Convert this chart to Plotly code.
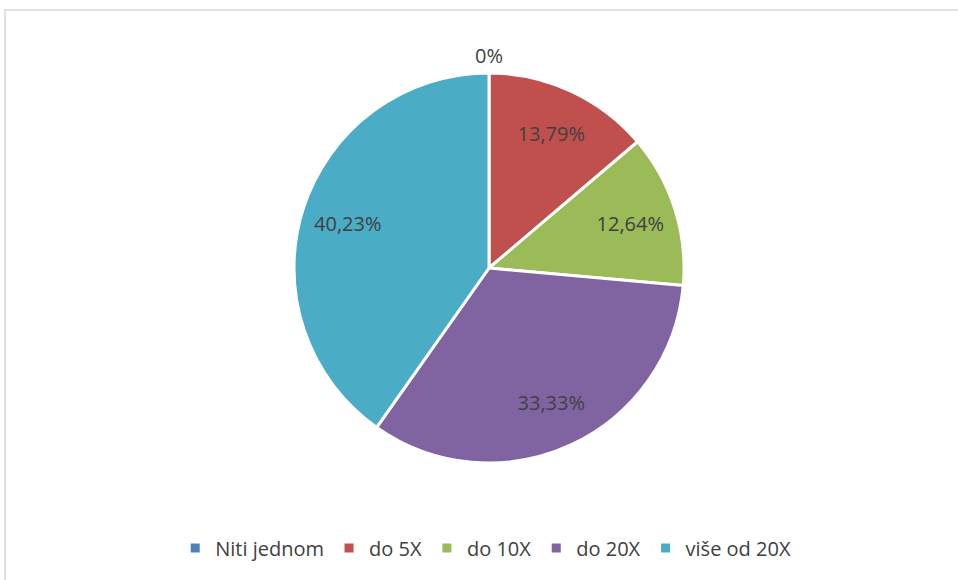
import plotly.graph_objects as go

categories = ["Niti jednom", "do 5X", "do 10X", "do 20X", "više od 20X"]
counts = [0, 12, 11, 29, 35]
colors = ["#4F81BD", "#C0504D", "#9BBB59", "#8064A2", "#4BACC6"]

total = sum(counts)
labels_txt = []
for v in counts:
    p = v / total * 100
    labels_txt.append("0%" if v == 0 else f"{p:.2f}".replace(".", ",") + "%")

W, H = 958, 580
cx, cy, R = 489, 268, 195
dom = dict(x=[(cx - R) / W, (cx + R) / W], y=[1 - (cy + R) / H, 1 - (cy - R) / H])
FONT = "Open Sans, sans-serif"
TXT = "#404040"

# main pie (colours, legend)
fig = go.Figure(go.Pie(
    labels=categories,
    values=counts,
    textinfo="none",
    sort=False,
    direction="clockwise",
    rotation=0,
    marker=dict(colors=colors, line=dict(color="white", width=3)),
    domain=dom,
    hoverinfo="label+value+percent",
))

# transparent ring overlay to place the data labels further out, like the original
ring_text = ["" if v == 0 else t for v, t in zip(counts, labels_txt)]
fig.add_trace(go.Pie(
    labels=categories,
    values=counts,
    text=ring_text,
    textinfo="text",
    textposition="inside",
    insidetextorientation="horizontal",
    hole=0.52,
    sort=False,
    direction="clockwise",
    rotation=0,
    marker=dict(colors=["rgba(0,0,0,0)"] * len(counts), line=dict(width=0)),
    textfont=dict(family=FONT, size=20, color=TXT),
    domain=dom,
    showlegend=False,
    hoverinfo="skip",
))

annotations = []
for v, t in zip(counts, labels_txt):
    if v == 0:
        annotations.append(dict(text=t, xref="paper", yref="paper", x=cx / W, y=1 - (cy - R - 18) / H,
                                xanchor="center", yanchor="middle",
                                showarrow=False, font=dict(family=FONT, size=20, color=TXT)))

fig.update_layout(
    width=W, height=H,
    margin=dict(l=0, r=0, t=0, b=0),
    paper_bgcolor="white",
    showlegend=True,
    legend=dict(
        orientation="h", x=0.507, xanchor="center", y=1 - 548 / H, yanchor="middle",
        font=dict(family=FONT, size=20, color=TXT),
        itemwidth=30, traceorder="normal",
    ),
    annotations=annotations,
    shapes=[dict(type="rect", xref="paper", yref="paper",
                 x0=5 / W, x1=1.05, y0=-0.05, y1=1 - 10 / H,
                 line=dict(color="#D9D9D9", width=1.5), fillcolor="rgba(0,0,0,0)")],
)

fig.write_html("out.html", config={"displayModeBar": False},
               post_script="document.body.style.margin='0';document.body.style.overflow='hidden';")
